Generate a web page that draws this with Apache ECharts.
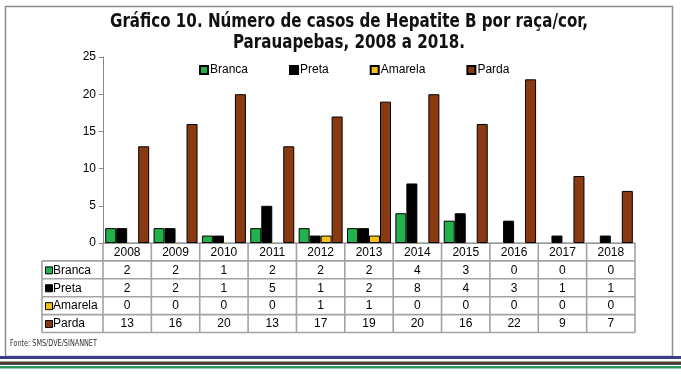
<!DOCTYPE html>
<html>
<head>
<meta charset="utf-8">
<script src="https://cdn.jsdelivr.net/npm/echarts@6/dist/echarts.min.js"></script>
<style>html,body{margin:0;padding:0;background:#fff;}#c{width:681px;height:374px;}</style>
</head>
<body>
<div id="c"></div>
<script>
const years = ['2008','2009','2010','2011','2012','2013','2014','2015','2016','2017','2018'];
const branca = [2,2,1,2,2,2,4,3,0,0,0];
const preta = [2,2,1,5,1,2,8,4,3,1,1];
const amarela = [0,0,0,0,1,1,0,0,0,0,0];
const parda = [13,16,20,13,17,19,20,16,22,9,7];
const seriesNames = ['Branca','Preta','Amarela','Parda'];
const seriesValues = [branca, preta, amarela, parda];
const colors = ['#22b14c','#000000','#f5c116','#8a3a10'];
const titleLines = ['Gráfico 10. Número de casos de Hepatite B por raça/cor,', 'Parauapebas, 2008 a 2018.'];
const sourceText = 'Fonte: SMS/DVE/SINANNET';

const FONT = "'Liberation Sans', Arial, sans-serif";
const CFONT = "'DejaVu Sans Condensed','Liberation Sans Narrow',sans-serif";
const chart = echarts.init(document.getElementById('c'), null, {renderer:'canvas'});

const option = {
  animation: false,
  legend: {
    left: 194, top: 59,
    itemWidth: 8, itemHeight: 8, itemGap: 41,
    icon: 'rect',
    textStyle: {fontFamily: FONT, fontSize: 12, color: '#000', padding: [0,0,0,-3]},
    data: seriesNames
  },
  grid: {left: 103, right: 46, top: 57, bottom: 131},
  xAxis: {
    type: 'category', data: years,
    axisLine: {show: true, lineStyle: {color: '#999', width: 1}},
    axisTick: {show: false},
    axisLabel: {show: false}
  },
  yAxis: {
    type: 'value', min: 0, max: 25, interval: 5,
    axisLine: {show: true, lineStyle: {color: '#888', width: 1}},
    axisTick: {show: true, length: 4, lineStyle: {color: '#888'}},
    axisLabel: {fontFamily: FONT, fontSize: 12, color: '#000', margin: 7},
    splitLine: {show: false}
  },
  series: seriesNames.map((n, i) => ({
    name: n, type: 'bar',
    barWidth: 11, barGap: '0%',
    data: seriesValues[i].map(v => v === 0 ? '-' : v),
    itemStyle: {color: colors[i], borderColor: '#000', borderWidth: 1}
  }))
};
chart.setOption(option);

// build table + decorations from the axis scale
const g = [];
const c0 = chart.convertToPixel({xAxisIndex: 0}, 0);
const c1 = chart.convertToPixel({xAxisIndex: 0}, 1);
const band = c1 - c0;
const y0 = chart.convertToPixel({yAxisIndex: 0}, 0);
const tableLeft = c0 - band / 2;
const tableRight = chart.convertToPixel({xAxisIndex: 0}, years.length - 1) + band / 2;
const labelLeft = 42;
const rowH = 17.9;
const lineColor = '#a3a3a3';
const lw = 1.6;

// title (condensed via horizontal scale)
titleLines.forEach((t, i) => {
  g.push({type:'text', x: 349, y: 22 + i * 21, scaleX: 0.84,
    style:{text: t, fill:'#111', font: 'bold 20px ' + CFONT, align:'center', verticalAlign:'middle'}});
});

// horizontal lines
g.push({type:'line', shape:{x1:tableLeft, y1:y0, x2:tableRight, y2:y0}, style:{stroke:lineColor, lineWidth:lw}});
for (let r = 1; r <= seriesNames.length + 1; r++) {
  const yy = y0 + r * rowH;
  g.push({type:'line', shape:{x1:labelLeft, y1:yy, x2:tableRight, y2:yy}, style:{stroke:lineColor, lineWidth:lw}});
}
// vertical lines
g.push({type:'line', shape:{x1:labelLeft, y1:y0 + rowH, x2:labelLeft, y2:y0 + rowH * 5}, style:{stroke:lineColor, lineWidth:lw}});
for (let k = 0; k <= years.length; k++) {
  const xx = tableLeft + k * band;
  g.push({type:'line', shape:{x1:xx, y1:y0, x2:xx, y2:y0 + rowH * 5}, style:{stroke:lineColor, lineWidth:lw}});
}
// header years
years.forEach((yr, i) => {
  const cx = chart.convertToPixel({xAxisIndex: 0}, i);
  g.push({type:'text', x: cx, y: y0 + rowH / 2 + 0.5, style:{text: yr, fill:'#000', font: '12px ' + FONT, align:'center', verticalAlign:'middle'}});
});
// rows
seriesNames.forEach((n, r) => {
  const cy = y0 + rowH * (r + 1) + rowH / 2 + 0.5;
  g.push({type:'rect', shape:{x: 45.5, y: cy - 3.5, width: 7, height: 7}, style:{fill: colors[r], stroke:'#000', lineWidth:1}});
  g.push({type:'text', x: 53, y: cy, style:{text: n, fill:'#000', font: '12px ' + FONT, align:'left', verticalAlign:'middle'}});
  seriesValues[r].forEach((v, i) => {
    const cx = chart.convertToPixel({xAxisIndex: 0}, i);
    g.push({type:'text', x: cx, y: cy, style:{text: String(v), fill:'#000', font: '12px ' + FONT, align:'center', verticalAlign:'middle'}});
  });
});
// source
g.push({type:'text', x: 10, y: 344, scaleX: 0.9, style:{text: sourceText, fill:'#333', font: '8px ' + CFONT, align:'left', verticalAlign:'middle'}});
// outer frame
g.push({type:'rect', shape:{x:5.5, y:6.5, width:667, height:350}, style:{fill:'none', stroke:'#8c8c8c', lineWidth:1.5}, z: -1});
// bottom stripes
g.push({type:'rect', shape:{x:0, y:356, width:681, height:3}, style:{fill:'#3a3d8c'}});
g.push({type:'rect', shape:{x:0, y:361.5, width:681, height:1.7}, style:{fill:'#5b3b25'}});
g.push({type:'rect', shape:{x:0, y:363.2, width:681, height:1.5}, style:{fill:'#111'}});
g.push({type:'rect', shape:{x:0, y:366, width:681, height:2.5}, style:{fill:'#2e9a5f'}});

chart.setOption({graphic: g});
</script>
</body>
</html>
